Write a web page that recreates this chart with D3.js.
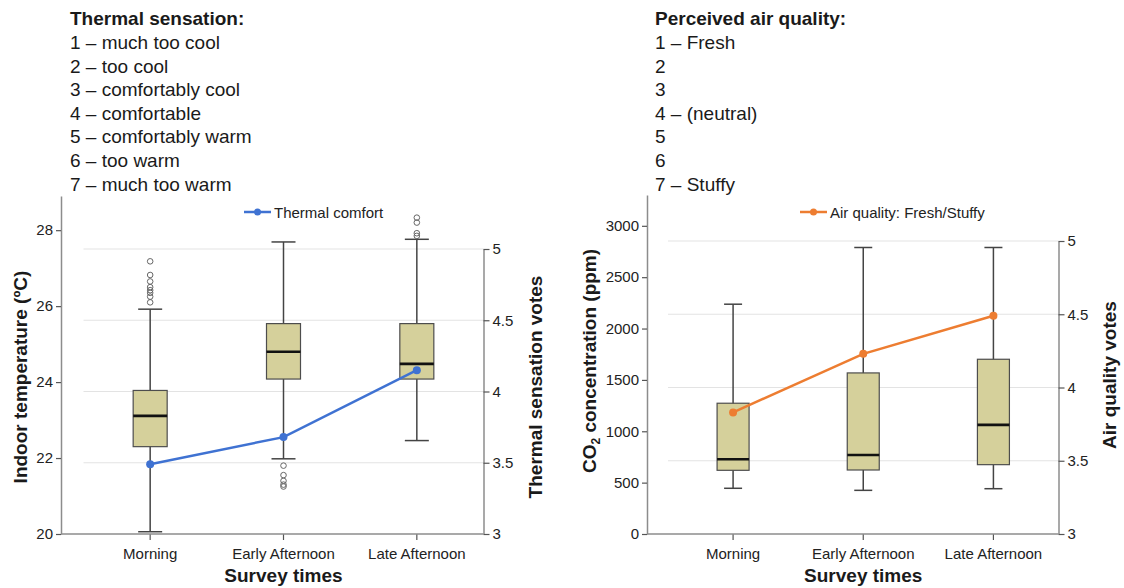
<!DOCTYPE html>
<html><head><meta charset="utf-8">
<script src="https://cdn.jsdelivr.net/npm/d3@7"></script>
<style>
body{margin:0;background:#fff;}
svg{font-family:"Liberation Sans",Arial,sans-serif;}
</style></head>
<body>
<svg id="chart" width="1124" height="588"></svg>
<script>
// ---------- data ----------
const categories = ["Morning", "Early Afternoon", "Late Afternoon"];

// Indoor temperature (°C) box plots
const tempWhiskerLow  = [20.06, 21.98, 22.46];
const tempQ1          = [22.30, 24.08, 24.08];
const tempMedian      = [23.11, 24.80, 24.48];
const tempQ3          = [23.78, 25.54, 25.54];
const tempWhiskerHigh = [25.92, 27.69, 27.76];
const tempOutliers    = [
  [26.10, 26.25, 26.35, 26.42, 26.50, 26.65, 26.82, 27.18],
  [21.80, 21.55, 21.40, 21.30, 21.25],
  [27.85, 27.92, 28.20, 28.33]
];
// Thermal sensation votes (mean)
const thermalVotes = [3.49, 3.68, 4.15];

// CO2 concentration (ppm) box plots
const co2WhiskerLow  = [445, 425, 441];
const co2Q1          = [620, 623, 675];
const co2Median      = [727, 769, 1062];
const co2Q3          = [1273, 1568, 1701];
const co2WhiskerHigh = [2237, 2789, 2789];
const co2Outliers    = [[], [], []];
// Air quality votes (mean)
const airVotes = [3.83, 4.23, 4.49];

// tick values
const tempTicks = [20, 22, 24, 26, 28];
const co2Ticks = [0, 500, 1000, 1500, 2000, 2500, 3000];
const voteTicks = [3, 3.5, 4, 4.5, 5];

// scale legends text
const thermalScaleTitle = "Thermal sensation:";
const thermalScaleLines = ["1 – much too cool", "2 – too cool", "3 – comfortably cool", "4 – comfortable",
  "5 – comfortably warm", "6 – too warm", "7 – much too warm"];
const airScaleTitle = "Perceived air quality:";
const airScaleLines = ["1 – Fresh", "2", "3", "4 – (neutral)", "5", "6", "7 – Stuffy"];

// ---------- drawing ----------
const svg = d3.select("#chart");
const textColor = "#1a1a1a";
const axisColor = "#8c8c8c";
const boxFill = "#d5d09b";
const boxStroke = "#4d4d4d";
const tickFont = 15;
const titleFont = 19;

function scaleText(x, title, lines) {
  const g = svg.append("g").attr("font-size", 19).attr("fill", textColor);
  g.append("text").attr("x", x).attr("y", 25).attr("font-weight", "bold").text(title);
  g.selectAll("text.line").data(lines).join("text").attr("class", "line")
    .attr("x", x).attr("y", (d, i) => 49 + i * 23.6).text(d => d);
}
scaleText(70, thermalScaleTitle, thermalScaleLines);
scaleText(655, airScaleTitle, airScaleLines);

function panel(cfg) {
  const g = svg.append("g");
  const x = d3.scaleBand().domain(categories).range(cfg.xRange).padding(0);
  const cx = c => x(c) + x.bandwidth() / 2;
  const yL = d3.scaleLinear().domain(cfg.leftDomain).range([534, cfg.leftTop]);
  const yR = d3.scaleLinear().domain([3, 5]).range([534, cfg.rightTop]);

  // gridlines at right-axis ticks
  g.selectAll("line.grid").data(voteTicks.filter(v => v > 3)).join("line")
    .attr("x1", cfg.xRange[0]).attr("x2", cfg.xRange[1])
    .attr("y1", d => yR(d)).attr("y2", d => yR(d))
    .attr("stroke", "#e3e3e3").attr("stroke-width", 1.2);

  // left axis
  const la = g.append("g").attr("transform", `translate(${cfg.leftAxisX},0)`)
    .call(d3.axisLeft(yL).tickValues(cfg.leftTicks).tickSize(5).tickSizeOuter(0).tickFormat(d3.format("d")));
  // right axis
  const ra = g.append("g").attr("transform", `translate(${cfg.xRange[1]},0)`)
    .call(d3.axisRight(yR).tickValues(voteTicks).tickSize(6).tickSizeOuter(0).tickFormat(d3.format("")));
  // bottom axis
  const ba = g.append("g").attr("transform", "translate(0,534)")
    .call(d3.axisBottom(x).tickSize(6).tickSizeOuter(0));
  ba.select(".domain").remove();
  g.append("line").attr("x1", cfg.leftAxisX).attr("x2", cfg.xRange[1]).attr("y1", 534).attr("y2", 534)
    .attr("stroke", axisColor).attr("stroke-width", 1.5);
  [la, ra, ba].forEach(a => {
    a.selectAll(".domain").attr("stroke", axisColor).attr("stroke-width", 1.5);
    a.selectAll(".tick line").attr("stroke", "#555").attr("stroke-width", 1.2);
    a.selectAll(".tick text").attr("fill", "#222").attr("font-size", tickFont)
      .attr("font-family", "Liberation Sans, Arial, sans-serif");
  });
  ba.selectAll(".tick text").attr("dy", "1.05em");

  // box plots
  const bw = cfg.boxWidth, cw = cfg.capWidth;
  const boxes = g.selectAll("g.box").data(categories).join("g").attr("class", "box");
  boxes.append("line").attr("x1", cx).attr("x2", cx)
    .attr("y1", (d, i) => yL(cfg.wHigh[i])).attr("y2", (d, i) => yL(cfg.wLow[i]))
    .attr("stroke", "#444").attr("stroke-width", 1.5);
  boxes.append("line").attr("x1", d => cx(d) - cw / 2).attr("x2", d => cx(d) + cw / 2)
    .attr("y1", (d, i) => yL(cfg.wHigh[i])).attr("y2", (d, i) => yL(cfg.wHigh[i]))
    .attr("stroke", "#444").attr("stroke-width", 1.5);
  boxes.append("line").attr("x1", d => cx(d) - cw / 2).attr("x2", d => cx(d) + cw / 2)
    .attr("y1", (d, i) => yL(cfg.wLow[i])).attr("y2", (d, i) => yL(cfg.wLow[i]))
    .attr("stroke", "#444").attr("stroke-width", 1.5);
  boxes.append("rect").attr("x", d => cx(d) - bw / 2).attr("width", bw)
    .attr("y", (d, i) => yL(cfg.q3[i])).attr("height", (d, i) => yL(cfg.q1[i]) - yL(cfg.q3[i]))
    .attr("fill", boxFill).attr("stroke", boxStroke).attr("stroke-width", 1.2);
  boxes.append("line").attr("x1", d => cx(d) - bw / 2).attr("x2", d => cx(d) + bw / 2)
    .attr("y1", (d, i) => yL(cfg.med[i])).attr("y2", (d, i) => yL(cfg.med[i]))
    .attr("stroke", "#111").attr("stroke-width", 2.6);
  boxes.each(function (d, i) {
    d3.select(this).selectAll("circle").data(cfg.outliers[i]).join("circle")
      .attr("cx", cx(d)).attr("cy", v => yL(v)).attr("r", 2.8)
      .attr("fill", "none").attr("stroke", "#666").attr("stroke-width", 1);
  });

  // mean votes line
  const line = d3.line().x((v, i) => cx(categories[i])).y(v => yR(v));
  g.append("path").datum(cfg.votes).attr("d", line).attr("fill", "none")
    .attr("stroke", cfg.lineColor).attr("stroke-width", 2.5);
  g.selectAll("circle.pt").data(cfg.votes).join("circle").attr("class", "pt")
    .attr("cx", (v, i) => cx(categories[i])).attr("cy", v => yR(v)).attr("r", 4)
    .attr("fill", cfg.lineColor);

  // legend
  const lg = g.append("g");
  lg.append("line").attr("x1", cfg.legendX).attr("x2", cfg.legendX + 27).attr("y1", 212).attr("y2", 212)
    .attr("stroke", cfg.lineColor).attr("stroke-width", 2.5);
  lg.append("circle").attr("cx", cfg.legendX + 13.5).attr("cy", 212).attr("r", 3.5).attr("fill", cfg.lineColor);
  lg.append("text").attr("x", cfg.legendX + 30).attr("y", 212).attr("dominant-baseline", "central")
    .attr("font-size", tickFont).attr("fill", "#222").text(cfg.legendText);

  // axis titles
  g.append("text").attr("x", cx(categories[1])).attr("y", 582).attr("text-anchor", "middle")
    .attr("font-size", titleFont).attr("font-weight", "bold").attr("fill", textColor).text("Survey times");
  const lt = g.append("text").attr("transform", `translate(${cfg.leftTitleX},${cfg.leftTitleY}) rotate(-90)`)
    .attr("text-anchor", "middle").attr("dominant-baseline", "central")
    .attr("font-size", titleFont).attr("font-weight", "bold").attr("fill", textColor);
  cfg.leftTitle(lt);
  g.append("text").attr("transform", `translate(${cfg.rightTitleX},${cfg.rightTitleY}) rotate(-90)`)
    .attr("text-anchor", "middle").attr("dominant-baseline", "central")
    .attr("font-size", titleFont).attr("font-weight", "bold").attr("fill", textColor).text(cfg.rightTitle);
}

panel({
  xRange: [83.5, 483.5], leftAxisX: 61,
  leftDomain: [20, 28.9], leftTop: 196, leftTicks: tempTicks, rightTop: 249,
  wLow: tempWhiskerLow, q1: tempQ1, med: tempMedian, q3: tempQ3, wHigh: tempWhiskerHigh, outliers: tempOutliers,
  boxWidth: 34, capWidth: 24,
  votes: thermalVotes, lineColor: "#3f72d2", legendX: 244, legendText: "Thermal comfort",
  leftTitleX: 20, leftTitleY: 377, leftTitle: t => t.text("Indoor temperature (ºC)"),
  rightTitleX: 535, rightTitleY: 387, rightTitle: "Thermal sensation votes"
});

panel({
  xRange: [668, 1058.5], leftAxisX: 647,
  leftDomain: [0, 3300], leftTop: 195, leftTicks: co2Ticks, rightTop: 241,
  wLow: co2WhiskerLow, q1: co2Q1, med: co2Median, q3: co2Q3, wHigh: co2WhiskerHigh, outliers: co2Outliers,
  boxWidth: 32, capWidth: 18,
  votes: airVotes, lineColor: "#ed7d31", legendX: 800, legendText: "Air quality: Fresh/Stuffy",
  leftTitleX: 589, leftTitleY: 361, leftTitle: t => {
    t.append("tspan").text("CO");
    t.append("tspan").attr("font-size", 12).attr("baseline-shift", "sub").text("2");
    t.append("tspan").text(" concentration (ppm)");
  },
  rightTitleX: 1109, rightTitleY: 375, rightTitle: "Air quality votes"
});
</script>
</body></html>
